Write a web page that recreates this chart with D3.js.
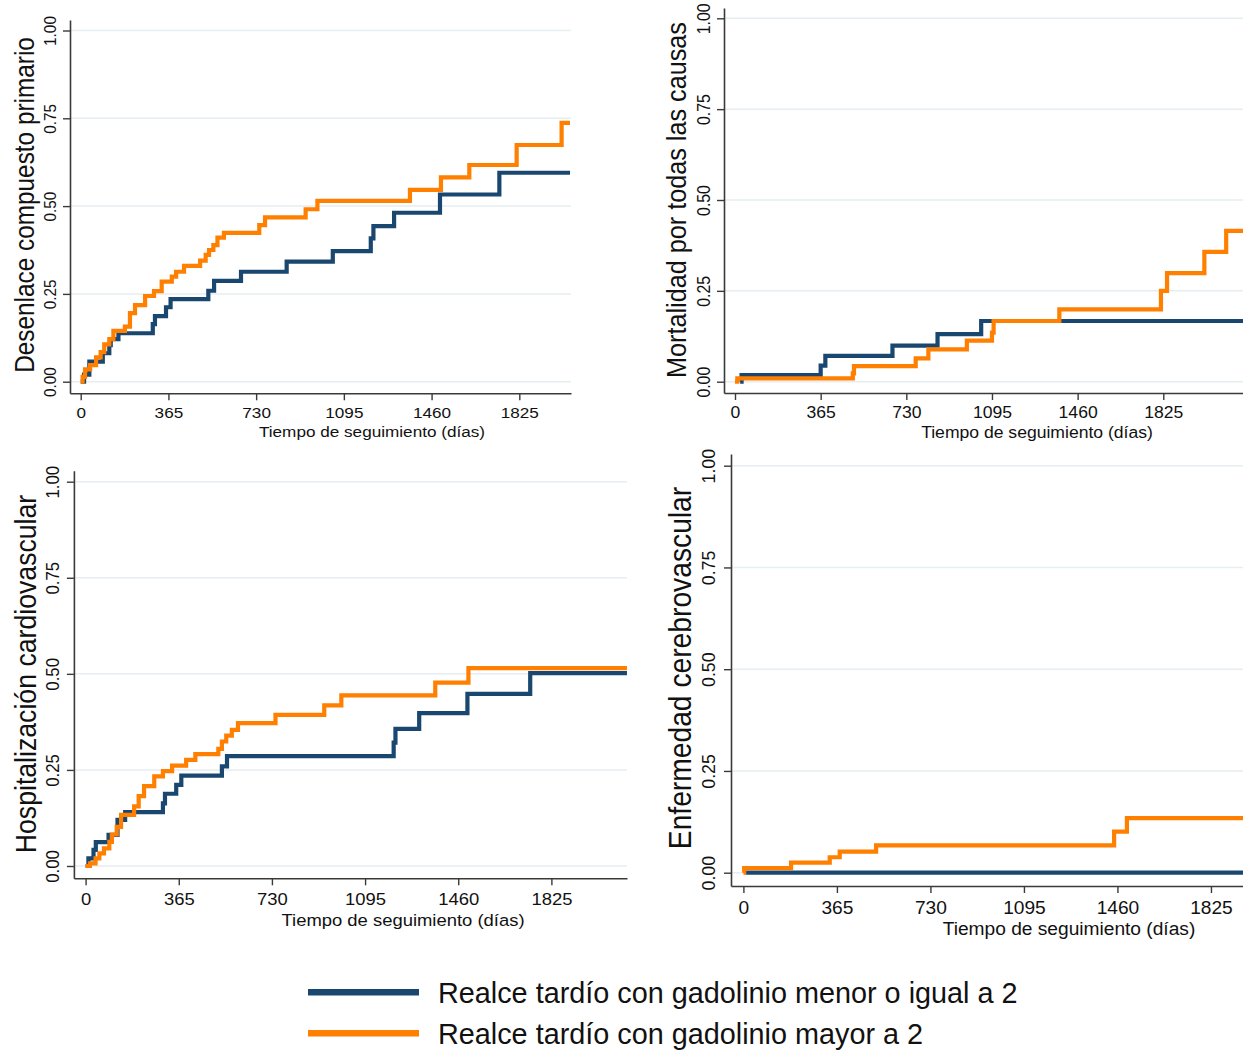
<!DOCTYPE html>
<html>
<head>
<meta charset="utf-8">
<script src="https://cdn.jsdelivr.net/npm/d3@7"></script>
<style>
  html, body { margin: 0; padding: 0; background: #fff; }
  svg { display: block; font-family: "Liberation Sans", Arial, sans-serif; }
</style>
</head>
<body>
<svg id="chart" width="1243" height="1052"></svg>
<script>
// ---------------- DATA ----------------
const xTickValues = [0, 365, 730, 1095, 1460, 1825];
const yTickValues = [0, 0.25, 0.5, 0.75, 1];
const xAxisTitle = "Tiempo de seguimiento (días)";
const seriesNames = ["Realce tardío con gadolinio menor o igual a 2", "Realce tardío con gadolinio mayor a 2"];
const panelTitles = ["Desenlace compuesto primario", "Mortalidad por todas las causas",
                     "Hospitalización cardiovascular", "Enfermedad cerebrovascular"];

// Panel 1: Desenlace compuesto primario
const p1BlueTime  = [0, 14, 36, 92, 119, 125, 157, 300, 309, 355, 374, 531, 555, 667, 857, 1049, 1207, 1218, 1304, 1495, 1742];
const p1BlueValue = [0, 0.020, 0.057, 0.081, 0.104, 0.121, 0.138, 0.164, 0.187, 0.212, 0.235, 0.259, 0.287, 0.313, 0.342, 0.372, 0.408, 0.443, 0.481, 0.533, 0.595];
const p1OrangeTime  = [0, 8, 18, 39, 64, 83, 98, 119, 136, 184, 205, 226, 268, 305, 337, 379, 397, 430, 497, 520, 534, 552, 569, 596, 743, 767, 936, 985, 1370, 1499, 1617, 1814, 2001];
const p1OrangeValue = [0, 0.014, 0.035, 0.047, 0.069, 0.084, 0.106, 0.121, 0.145, 0.157, 0.195, 0.218, 0.244, 0.258, 0.285, 0.299, 0.313, 0.330, 0.345, 0.361, 0.375, 0.389, 0.410, 0.424, 0.446, 0.468, 0.491, 0.515, 0.546, 0.582, 0.617, 0.674, 0.737];

// Panel 2: Mortalidad por todas las causas
const p2BlueTime  = [22, 28, 365, 385, 671, 863, 1049];
const p2BlueValue = [0, 0.018, 0.044, 0.071, 0.099, 0.131, 0.167];
const p2OrangeTime  = [0, 10, 502, 507, 770, 824, 988, 1095, 1102, 1382, 1815, 1841, 2000, 2093];
const p2OrangeValue = [0, 0.009, 0.023, 0.043, 0.064, 0.089, 0.113, 0.135, 0.167, 0.199, 0.250, 0.299, 0.357, 0.415];

// Panel 3: Hospitalización cardiovascular
const p3BlueTime  = [0, 11, 31, 40, 90, 125, 155, 303, 311, 355, 375, 534, 554, 1207, 1214, 1307, 1496, 1742];
const p3BlueValue = [0, 0.020, 0.042, 0.062, 0.081, 0.120, 0.140, 0.163, 0.188, 0.211, 0.235, 0.259, 0.286, 0.321, 0.357, 0.398, 0.448, 0.502];
const p3OrangeTime  = [0, 17, 39, 54, 72, 93, 103, 122, 139, 190, 208, 229, 269, 303, 339, 394, 430, 520, 534, 551, 573, 597, 744, 935, 1002, 1370, 1500];
const p3OrangeValue = [0, 0.007, 0.020, 0.033, 0.046, 0.063, 0.082, 0.102, 0.133, 0.155, 0.182, 0.208, 0.233, 0.247, 0.261, 0.276, 0.291, 0.305, 0.324, 0.339, 0.354, 0.372, 0.393, 0.418, 0.444, 0.477, 0.515];

// Panel 4: Enfermedad cerebrovascular
const p4BlueTime  = [8];
const p4BlueValue = [0];
const p4OrangeTime  = [0, 3, 186, 337, 376, 518, 1447, 1497];
const p4OrangeValue = [0, 0.011, 0.025, 0.038, 0.052, 0.067, 0.101, 0.134];

// ---------------- LAYOUT (pixel geometry of each panel) ----------------
const colors = ["#1a476f", "#ff7f00"];
const panels = [
  { title: panelTitles[0], blue: [p1BlueTime, p1BlueValue], orange: [p1OrangeTime, p1OrangeValue],
    axisX: 70, x0: 80.7, pxDay: 0.24033, y0: 381.7, yUnit: 351.2, xAxisY: 393.3, axisTop: 20, right: 571,
    tEnd: 2036, yTickBase: 56, yTitleBase: 34, yTitleCy: 205, xTickBase: 418, xTitleBase: 436.5, xTitleCx: 372, k: 1.12 },
  { title: panelTitles[1], blue: [p2BlueTime, p2BlueValue], orange: [p2OrangeTime, p2OrangeValue],
    axisX: 724, x0: 735, pxDay: 0.23468, y0: 381.7, yUnit: 363.4, xAxisY: 393, axisTop: 8, right: 1243,
    tEnd: 2300, yTickBase: 710, yTitleBase: 686, yTitleCy: 200, xTickBase: 418.5, xTitleBase: 437.5, xTitleCx: 1037, k: 1.11 },
  { title: panelTitles[2], blue: [p3BlueTime, p3BlueValue], orange: [p3OrangeTime, p3OrangeValue],
    axisX: 73.9, x0: 85.6, pxDay: 0.25523, y0: 866, yUnit: 384.3, xAxisY: 878.3, axisTop: 470.7, right: 627,
    tEnd: 2121, yTickBase: 59, yTitleBase: 36, yTitleCy: 674, xTickBase: 905.5, xTitleBase: 925.5, xTitleCx: 403, k: 1.10 },
  { title: panelTitles[3], blue: [p4BlueTime, p4BlueValue], orange: [p4OrangeTime, p4OrangeValue],
    axisX: 731, x0: 743.4, pxDay: 0.2562, y0: 872.7, yUnit: 407, xAxisY: 886, axisTop: 454, right: 1243,
    tEnd: 2300, yTickBase: 715, yTitleBase: 691, yTitleCy: 668, xTickBase: 914.5, xTitleBase: 935, xTitleCx: 1069, k: 1.08 }
];

const svg = d3.select("#chart");
svg.append("rect").attr("width", 1243).attr("height", 1052).attr("fill", "#fff");

panels.forEach((p, i) => {
  const g = svg.append("g");
  // scales: domains derived from the panel's pixel geometry
  const x = d3.scaleLinear()
    .domain([-(p.x0 - p.axisX) / p.pxDay, (p.right - p.x0) / p.pxDay])
    .range([p.axisX, p.right]);
  const y = d3.scaleLinear()
    .domain([-(p.xAxisY - p.y0) / p.yUnit, (p.y0 - p.axisTop) / p.yUnit])
    .range([p.xAxisY, p.axisTop]);

  const fv = 0.0436 * p.yUnit;      // tick / x-title font size
  const ft = 0.0694 * p.yUnit;      // y-title font size

  // gridlines
  g.append("g").selectAll("line").data(yTickValues).join("line")
    .attr("x1", p.axisX).attr("x2", p.right)
    .attr("y1", d => y(d)).attr("y2", d => y(d))
    .attr("stroke", "#e6eef1").attr("stroke-width", 1.5);

  // clip for curves
  const clipId = "clip" + i;
  svg.append("clipPath").attr("id", clipId).append("rect")
    .attr("x", p.axisX).attr("y", p.axisTop - 5)
    .attr("width", p.right - p.axisX + 10).attr("height", p.xAxisY - p.axisTop + 5);

  const line = d3.line().x(d => x(d[0])).y(d => y(d[1])).curve(d3.curveStepAfter);
  [p.blue, p.orange].forEach((s, j) => {
    const pts = s[0].map((t, idx) => [t, s[1][idx]]);
    const tEnd = Math.min(p.tEnd, x.domain()[1] + 20);
    pts.push([tEnd, s[1][s[1].length - 1]]);
    g.append("path").datum(pts)
      .attr("clip-path", `url(#${clipId})`)
      .attr("d", line)
      .attr("fill", "none")
      .attr("stroke", colors[j])
      .attr("stroke-width", 4.2)
      .attr("stroke-linejoin", "miter")
      .attr("stroke-linecap", "butt");
  });

  // x axis
  const gx = g.append("g").attr("transform", `translate(0,${p.xAxisY})`)
    .call(d3.axisBottom(x).tickValues(xTickValues).tickSize(7).tickSizeOuter(0).tickFormat(d3.format("d")));
  gx.select(".domain").attr("stroke", "#3a3a3a").attr("stroke-width", 1.6);
  gx.selectAll(".tick line").attr("stroke", "#3a3a3a").attr("stroke-width", 1.4);
  gx.selectAll(".tick text")
    .attr("y", p.xTickBase - p.xAxisY).attr("dy", null)
    .attr("transform", `scale(${p.k},1)`)
    .attr("fill", "#111").attr("font-size", fv).attr("font-family", "Liberation Sans, Arial, sans-serif");

  // y axis
  const gy = g.append("g").attr("transform", `translate(${p.axisX},0)`)
    .call(d3.axisLeft(y).tickValues(yTickValues).tickSize(7).tickSizeOuter(0).tickFormat(d3.format(".2f")));
  gy.select(".domain").attr("stroke", "#3a3a3a").attr("stroke-width", 1.6);
  gy.selectAll(".tick line").attr("stroke", "#3a3a3a").attr("stroke-width", 1.4);
  gy.selectAll(".tick text")
    .attr("x", null).attr("dy", null)
    .attr("text-anchor", "middle")
    .attr("transform", `translate(${p.yTickBase - p.axisX},0) scale(${p.k},1) rotate(-90)`)
    .attr("fill", "#111").attr("font-size", fv).attr("font-family", "Liberation Sans, Arial, sans-serif");

  // axis titles
  g.append("text")
    .attr("transform", `translate(${p.xTitleCx},${p.xTitleBase}) scale(${p.k},1)`)
    .attr("text-anchor", "middle").attr("font-size", fv).attr("fill", "#111")
    .text(xAxisTitle);
  g.append("text")
    .attr("transform", `translate(${p.yTitleBase},${p.yTitleCy}) scale(${p.k},1) rotate(-90)`)
    .attr("text-anchor", "middle").attr("font-size", ft).attr("fill", "#111")
    .text(p.title);
});

// legend
const legend = svg.append("g");
const legendY = [992.3, 1033.3];
seriesNames.forEach((name, j) => {
  legend.append("line")
    .attr("x1", 308).attr("x2", 419)
    .attr("y1", legendY[j]).attr("y2", legendY[j])
    .attr("stroke", colors[j]).attr("stroke-width", 6.5);
  legend.append("text")
    .attr("x", 438).attr("y", legendY[j] + 10.4)
    .attr("font-size", 28.8).attr("fill", "#111")
    .text(name);
});
</script>
</body>
</html>
